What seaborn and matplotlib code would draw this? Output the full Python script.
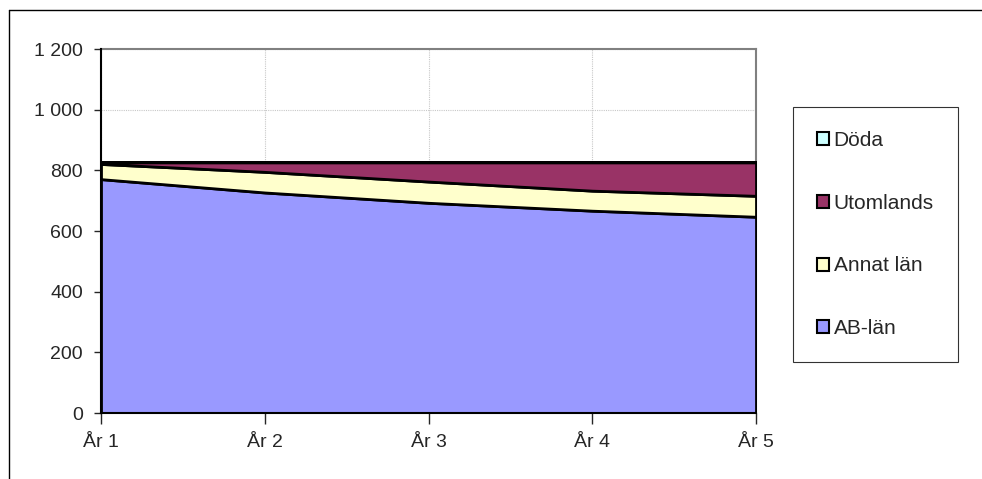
import matplotlib.pyplot as plt
import numpy as np
import seaborn as sns
from matplotlib.lines import Line2D
from matplotlib.patches import Patch

years = ['År 1', 'År 2', 'År 3', 'År 4', 'År 5']
ab_lan = [771, 727, 693, 667, 647]
annat_lan = [50, 68, 70, 66, 69]
utomlands = [5, 31, 63, 93, 110]
doda = [0, 0, 0, 0, 0]

series_names = ['AB-län', 'Annat län', 'Utomlands', 'Döda']
series_colors = ['#9999FF', '#FFFFCC', '#993366', '#CCFFFF']

sns.set_style('white')
plt.rcParams['font.family'] = ['Liberation Sans', 'DejaVu Sans']

fig = plt.figure(figsize=(9.82, 4.79), dpi=100)
ax = fig.add_axes([101/982, 1-413/479, (756-101)/982, (413-49)/479])

x = np.arange(len(years))
polys = ax.stackplot(x, ab_lan, annat_lan, utomlands, doda,
                     colors=series_colors, edgecolor='black', linewidth=2, zorder=3)

ax.set_xlim(0, len(years) - 1)
ax.set_ylim(0, 1200)
ax.set_xticks(x)
ax.set_xticklabels(years)
ax.set_yticks(range(0, 1201, 200))
ax.set_yticklabels([f'{v:,}'.replace(',', ' ') for v in range(0, 1201, 200)])
ax.tick_params(axis='y', direction='out', length=5, width=1, pad=8, labelsize=14, left=True)
ax.tick_params(axis='x', direction='out', length=8, width=1, pad=7, labelsize=14, bottom=True)

ax.grid(True, color='#c8c8c8', linestyle=(0, (1, 1)), linewidth=0.8, zorder=0)
ax.set_axisbelow(True)
for side in ['top', 'right']:
    ax.spines[side].set_color('#808080')
    ax.spines[side].set_linewidth(1.5)
for side in ['left', 'bottom']:
    ax.spines[side].set_color('black')
    ax.spines[side].set_linewidth(1.5)
    ax.spines[side].set_zorder(5)

handles = [Patch(facecolor=c, edgecolor='black', linewidth=1.5, label=n)
           for n, c in zip(series_names, series_colors)][::-1]
leg = fig.legend(handles=handles, loc='upper left', bbox_to_anchor=(793/982, 1-107/479),
                 fontsize=15, frameon=True, fancybox=False, edgecolor='black',
                 borderpad=1.15, labelspacing=2.1, handlelength=0.6, handleheight=0.6,
                 handletextpad=0.2, borderaxespad=0)
leg.get_frame().set_linewidth(0.8)

# outer chart frame (top and left visible)
fig.add_artist(Line2D([9/982, 1], [1-10/479, 1-10/479], transform=fig.transFigure, color='black', lw=1))
fig.add_artist(Line2D([9/982, 9/982], [0, 1-10/479], transform=fig.transFigure, color='black', lw=1))

fig.savefig('out.png', dpi=100)
